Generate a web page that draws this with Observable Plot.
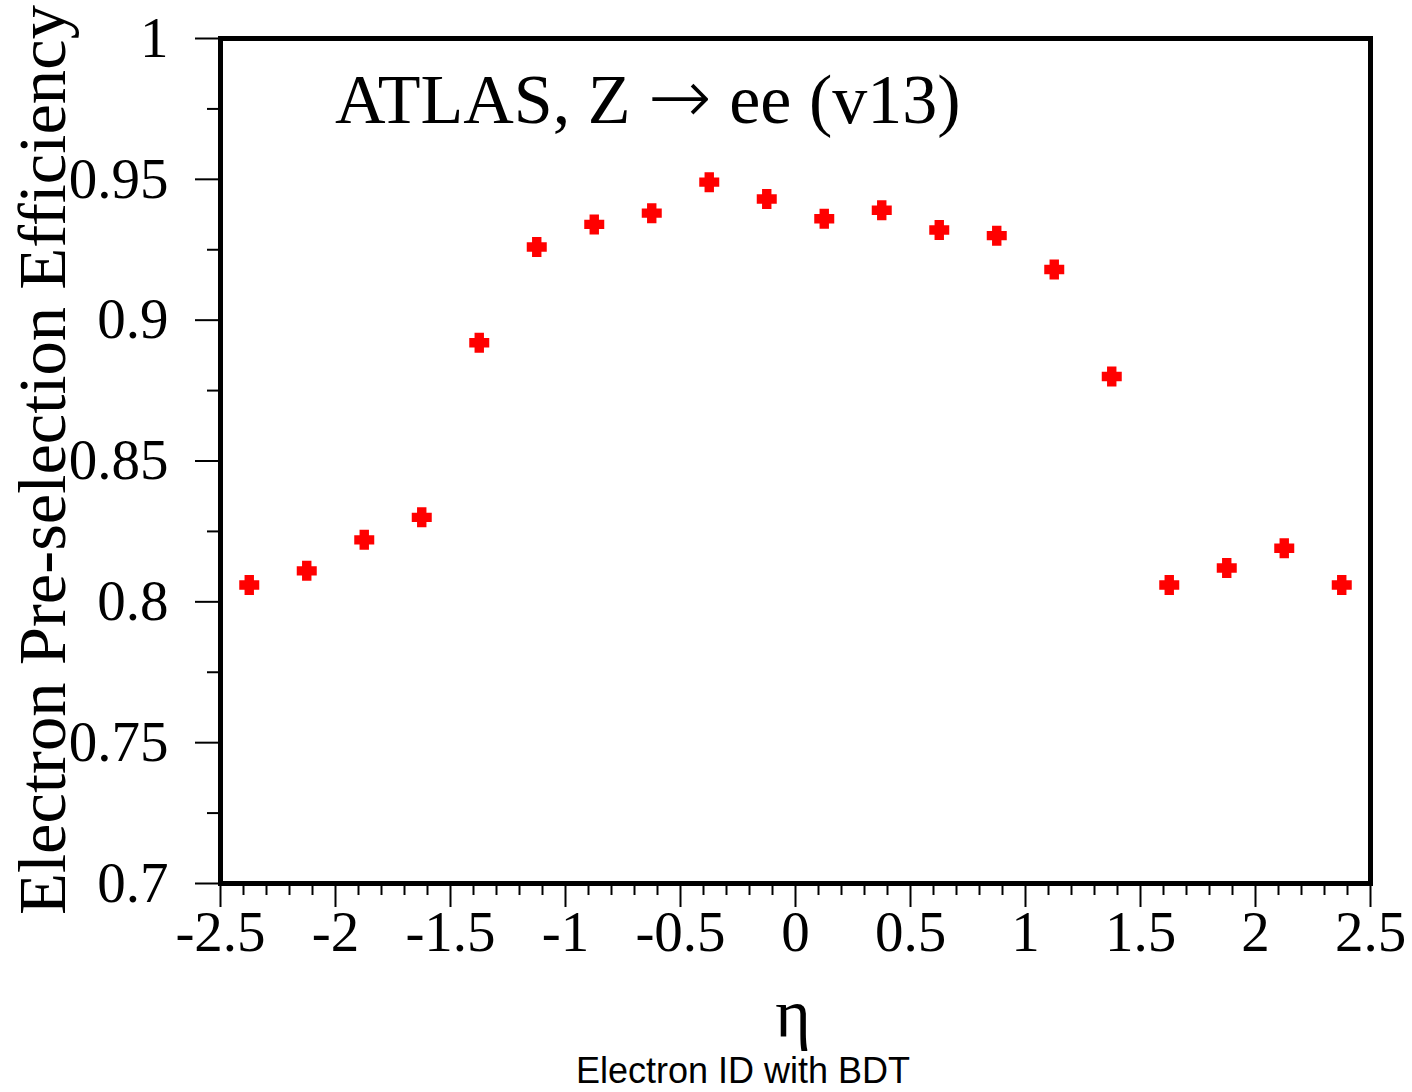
<!DOCTYPE html>
<html>
<head>
<meta charset="utf-8">
<script src="https://cdn.jsdelivr.net/npm/d3@7"></script>
<script src="https://cdn.jsdelivr.net/npm/@observablehq/plot@0.6"></script>
<style>
  html, body { margin: 0; padding: 0; background: #fff; }
  #wrap { position: relative; width: 1412px; height: 1092px; overflow: hidden; }
  #caption { position: absolute; left: 743px; top: 1056px; transform: translateX(-50%);
    font-family: "Liberation Sans", Arial, sans-serif; font-size: 36px; line-height: 30px;
    white-space: nowrap; color: #000; }
</style>
</head>
<body>
<div id="wrap"><div id="chart"></div><div id="caption">Electron ID with BDT</div></div>
<script>
const eta = [-2.375, -2.125, -1.875, -1.625, -1.375, -1.125, -0.875, -0.625, -0.375, -0.125,
              0.125,  0.375,  0.625,  0.875,  1.125,  1.375,  1.625,  1.875,  2.125,  2.375];
const efficiency = [0.806, 0.811, 0.822, 0.830, 0.892, 0.926, 0.934, 0.938, 0.949, 0.943,
                    0.936, 0.939, 0.932, 0.930, 0.918, 0.880, 0.806, 0.812, 0.819, 0.806];
const xMajor = [-2.5, -2, -1.5, -1, -0.5, 0, 0.5, 1, 1.5, 2, 2.5];
const xMajorLabels = ["-2.5", "-2", "-1.5", "-1", "-0.5", "0", "0.5", "1", "1.5", "2", "2.5"];
const xMinor = d3.range(-25, 26).filter(i => i % 5 !== 0).map(i => i / 10);
const yMajor = [0.7, 0.75, 0.8, 0.85, 0.9, 0.95, 1];
const yMajorLabels = ["0.7", "0.75", "0.8", "0.85", "0.9", "0.95", "1"];
const yMinor = [0.725, 0.775, 0.825, 0.875, 0.925, 0.975];
const titleParts = ["ATLAS, Z ", "\u2192", " ee (v13)"];
const yTitle = "Electron Pre-selection Efficiency";
const xTitle = "\u03b7";

const data = eta.map((x, i) => ({eta: x, eff: efficiency[i]}));

const fatCross = {
  draw(context, size) {
    const r = Math.sqrt(size / Math.PI);
    const a = r * 0.47;
    context.moveTo(-a, -r);
    context.lineTo(a, -r);
    context.lineTo(a, -a);
    context.lineTo(r, -a);
    context.lineTo(r, a);
    context.lineTo(a, a);
    context.lineTo(a, r);
    context.lineTo(-a, r);
    context.lineTo(-a, a);
    context.lineTo(-r, a);
    context.lineTo(-r, -a);
    context.lineTo(-a, -a);
    context.closePath();
  }
};

const W = 1412, H = 1055;
const chart = Plot.plot({
  width: W, height: H,
  marginLeft: 220, marginRight: 42, marginTop: 38, marginBottom: H - 883,
  style: {fontFamily: "'Liberation Serif', 'Times New Roman', serif", fontSize: "57px", color: "#000", background: "#fff"},
  x: {domain: [-2.5, 2.5]},
  y: {domain: [0.7, 1]},
  marks: [
    Plot.axisX(xMinor, {anchor: "bottom", tickSize: 12, strokeWidth: 2, tickFormat: () => "", label: null}),
    Plot.axisX(xMajor, {anchor: "bottom", tickSize: 24, strokeWidth: 2, tickPadding: 3,
      tickFormat: d => xMajorLabels[xMajor.indexOf(d)], label: null}),
    Plot.axisY(yMinor, {anchor: "left", tickSize: 13, strokeWidth: 2, tickFormat: () => "", label: null}),
    Plot.axisY(yMajor, {anchor: "left", tickSize: 25, strokeWidth: 2, tickPadding: 27,
      tickFormat: d => yMajorLabels[yMajor.indexOf(d)], label: null}),
    Plot.frame({stroke: "#000", strokeWidth: 5}),
    Plot.dot(data, {x: "eta", y: "eff", r: 10, symbol: fatCross, fill: "#ff0000", stroke: "none"})
  ]
});
document.getElementById("chart").appendChild(chart);

const svg = d3.select(chart);
const t = svg.append("text")
  .attr("x", 335).attr("y", 123)
  .attr("text-anchor", "start")
  .attr("font-family", "'Liberation Serif', serif").attr("font-size", 70)
  .attr("fill", "#000");
t.append("tspan").text(titleParts[0]);
t.append("tspan").attr("font-family", "'DejaVu Sans ExtraLight', 'DejaVu Sans Light', 'DejaVu Sans', sans-serif")
  .attr("font-size", 76).text(titleParts[1]);
t.append("tspan").text(titleParts[2]);
svg.append("text")
  .attr("transform", "translate(65,460) rotate(-90)")
  .attr("text-anchor", "middle")
  .attr("font-family", "'Liberation Serif', serif").attr("font-size", 68)
  .attr("textLength", 910).attr("lengthAdjust", "spacingAndGlyphs")
  .attr("fill", "#000")
  .text(yTitle);
svg.append("text")
  .attr("x", 793).attr("y", 1037)
  .attr("text-anchor", "middle")
  .attr("font-family", "'Liberation Serif', serif").attr("font-size", 68)
  .attr("fill", "#000")
  .text(xTitle);
</script>
</body>
</html>
